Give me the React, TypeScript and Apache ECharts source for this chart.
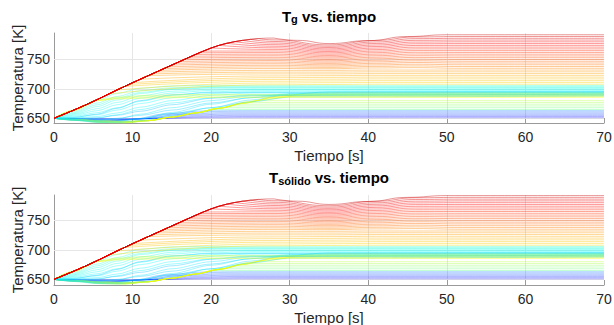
import React, { useEffect, useRef } from "react";
import * as echarts from "echarts";

// ---------- data ----------
const X_TICKS = [0, 10, 20, 30, 40, 50, 60, 70];
const Y_TICKS = [650, 700, 750];

// upper (red) envelope shared by the hot lines until they leave it
const TOP_ENVELOPE: number[][] = [
  [0, 650], [1, 655.5], [2, 661], [3, 666.7], [4, 672.5], [5, 678.7], [6, 685], [7, 691.5], [8, 698],
  [9, 704.2], [10, 710.5], [11, 716.5], [12, 722.5], [13, 728.5], [14, 734.5], [15, 740.5], [16, 746.5],
  [17, 752.5], [18, 758.5], [19, 764.2], [20, 769.5], [21, 774], [22, 777.5], [23, 780.3], [24, 782.5],
  [25, 784.2], [26, 785.5], [27, 786.3], [28, 786.4],
];
const TOP_LINE_TAIL: number[][] = [[28, 786.4], [31, 782.5], [35, 777], [40, 782], [45, 789], [50, 792], [70, 792]];

// red / orange family: time and value where each line leaves the envelope, then its values at t=28, 35, 41, 46 and final
const RED_DEPART_T = [26, 25, 24, 23, 22, 21, 20, 19, 18.5, 18, 17.5, 17, 16.5, 16, 15.5, 15, 14.5, 14, 13.5, 13, 12.5, 12, 11, 10, 9.5, 9, 8, 7];
const RED_DEPART_V = [785.5, 784.2, 782.5, 780.3, 777.5, 774, 769.5, 764.2, 761.4, 758.5, 755.5, 752.5, 749.5, 746.5, 743.5, 740.5, 737.5, 734.5, 731.5, 728.5, 725.5, 722.5, 716.5, 710.5, 707.4, 704.2, 698, 691.5];
const RED_AT_28 = [783.3, 780.6, 777.9, 775.2, 772.5, 769.8, 767.1, 764.4, 761.7, 759, 756.3, 753.6, 750.9, 748.2, 745.5, 742.8, 740.1, 737.4, 734.7, 731.5, 728.5, 725.5, 722, 719, 716, 713, 710, 707];
const RED_AT_35 = [774.8, 772.5, 770.3, 768, 765.8, 763.5, 761.3, 759, 756.8, 754.5, 752.3, 750, 747.8, 745.5, 743.3, 741, 738.8, 736.5, 734.3, 731.5, 728.5, 725.5, 722.5, 719.5, 716.5, 713.5, 710.5, 707.5];
const RED_AT_41 = [782.4, 779.8, 777.2, 774.6, 772, 769.4, 766.8, 764.2, 761.6, 759, 756.4, 753.8, 751.2, 748.6, 746, 743.4, 740.8, 738.2, 735.6, 732, 729, 726, 723, 720, 717, 714, 711, 708];
const RED_AT_46 = [788.3, 785.4, 782.5, 779.6, 776.7, 773.8, 770.9, 768, 765.1, 762.2, 759.3, 756.4, 753.5, 750.6, 747.7, 744.8, 741.9, 739, 736.1, 732, 729, 726, 723, 720, 717, 714, 711, 708];
const RED_FINAL = [789, 786, 783, 780, 777, 774, 771, 768, 765, 762, 759, 756, 753, 750, 747, 744, 741, 738, 735, 732, 729, 726, 723, 720, 717, 714, 711, 708];

const CYAN_LINES: number[][][] = [
  [[0, 650], [2.5, 663], [5.5, 681], [8, 692], [11, 701], [15, 705], [20, 706], [70, 706]],
  [[0, 650], [2.5, 661], [5.5, 676], [8, 687], [11, 697], [15, 702], [20, 704], [70, 704.5]],
  [[0, 650], [2.5, 659.5], [5.5, 673], [8, 684], [11, 694], [15, 700], [20, 702.5], [70, 703]],
  [[0, 650], [2.5, 658], [5.5, 670], [8, 681], [11, 692], [15, 699], [20, 701.5], [70, 702]],
  [[0, 650], [2.5, 656.5], [5.5, 666.5], [8, 677], [11, 688], [15, 696], [20, 699.5], [70, 700.5]],
  [[0, 650], [2.5, 655], [5.5, 663], [8, 673], [11, 684], [15, 693], [20, 697.5], [25, 699], [70, 699]],
  [[0, 650], [2.5, 653.5], [5.5, 659.5], [8, 668], [11, 679], [15, 689], [20, 695], [25, 697], [70, 697.5]],
  [[0, 650], [2.5, 652], [5.5, 656], [8, 664], [11, 675], [15, 685], [20, 692], [25, 695], [70, 696]],
  [[0, 650], [2.5, 650.5], [5.5, 653], [8, 659], [11, 669], [15, 680], [20, 689], [25, 693], [70, 694]],
  [[0, 650], [2.5, 649], [5.5, 650], [8, 656], [11, 665], [15, 676], [20, 685], [25, 690], [70, 692]],
  [[0, 650], [2.5, 648], [5.5, 646], [8, 649], [11, 657], [15, 668], [20, 680], [25, 688], [30, 690], [70, 690]],
  [[0, 650], [2.5, 647], [5.5, 644], [8, 644], [11, 649], [15, 660], [20, 674], [25, 685], [30, 692], [70, 693]],
  [[0, 650], [2.5, 646.5], [5.5, 643], [8, 642.5], [11, 646], [15, 655], [20, 668], [25, 681], [30, 691], [35, 695], [70, 695]],
];

// light-blue lines that cross the lower mesh
const SKY_LINES: number[][][] = [
  [[0, 650], [2.5, 651.5], [5.5, 657], [8, 667], [11, 680], [15, 690], [20, 694], [70, 695]],
  [[0, 650], [2.5, 650], [5.5, 651], [8, 655], [11, 662], [15, 673], [20, 684], [25, 689], [70, 691]],
  [[0, 650], [2.5, 648.5], [5.5, 647.5], [8, 650], [11, 655], [15, 664], [20, 676], [25, 685], [30, 689], [70, 689]],
  [[0, 650], [2.5, 647.5], [5.5, 645], [8, 645.5], [11, 650], [15, 658], [20, 668], [25, 678], [30, 686], [70, 688]],
];

// yellow-green lines that leave the upper ray near t = 5.5
const YELLOW_UPPER: number[][][] = [
  [[0, 650], [2.5, 664], [5.5, 681], [8, 686], [12, 689], [18, 690.5], [70, 691]],
  [[0, 650], [2.5, 663.8], [5.5, 680.5], [8, 684.5], [12, 686.5], [18, 688], [70, 688.5]],
  [[0, 650], [2.5, 663.5], [5.5, 680], [8, 683], [12, 684.5], [18, 685.5], [70, 685.5]],
];

const YELLOW_LINES: number[][][] = [
  [[0, 650], [3, 647.3], [6, 644], [9, 643], [12, 646], [15, 652], [18, 659], [21, 667], [24, 675.5], [27, 682.5], [30, 687], [70, 687]],
  [[0, 650], [3, 647.6], [6, 644.6], [9, 643.5], [12, 646], [15, 652], [18, 659], [21, 667], [24, 675.5], [27, 682.5], [31, 688], [35, 690], [70, 690]],
  [[0, 650], [3, 647.9], [6, 645.2], [9, 644.2], [12, 646], [15, 652], [18, 659], [21, 667], [24, 675.5], [28, 686], [32, 691], [36, 692], [70, 692]],
  [[0, 650], [3, 648.2], [6, 645.8], [9, 645], [12, 646], [15, 652], [18, 659], [21, 667], [25, 679], [29, 688], [33, 693], [37, 694], [70, 694]],
];

const GREEN_LINES: number[][][] = [
  [[0, 650], [3, 648.2], [6, 645.5], [9, 644.5], [12, 646], [15, 652], [18, 659], [20.25, 665], [70, 665]],
  [[0, 650], [3, 647.8], [6, 644.8], [9, 643.8], [12, 646], [15, 652], [18, 659], [21.4, 668], [70, 668]],
  [[0, 650], [3, 647.4], [6, 644.2], [9, 643.2], [12, 646], [15, 652], [18, 659], [21, 667], [22.4, 671], [70, 671]],
  [[0, 650], [3, 647], [6, 643.6], [9, 642.6], [12, 646], [15, 652], [18, 659], [21, 667], [23.5, 674], [70, 674]],
  [[0, 650], [3, 646.6], [6, 643], [9, 642.2], [12, 646], [15, 652], [18, 659], [21, 667], [24.7, 677], [70, 677]],
  [[0, 650], [3, 646.2], [6, 642.6], [9, 642], [12, 646], [15, 652], [18, 659], [21, 667], [24, 675.5], [25.9, 680], [70, 680]],
];

const BLUE_LINES: number[][][] = [
  [[0, 650], [4, 649.5], [9, 649.3], [14, 649.8], [19, 650.8], [24, 651], [70, 651]],
  [[0, 650], [4, 649], [9, 648.5], [14, 650.2], [19, 652.5], [24, 653], [70, 653]],
  [[0, 650], [4, 648.5], [9, 647.8], [13, 650], [18, 654], [23, 655], [70, 655]],
  [[0, 650], [3.5, 648], [8, 647], [12, 649.5], [17, 655.5], [22, 657], [70, 657]],
  [[0, 650], [3.5, 647.5], [7.5, 646.3], [11, 649], [16, 656.5], [21, 659], [70, 659]],
  [[0, 650], [3, 647.2], [7, 645.5], [10.5, 648.5], [15, 657], [20, 661], [70, 661]],
  [[0, 650], [3, 646.8], [6.5, 645], [10, 648], [14, 657.5], [19, 662.5], [24, 663], [70, 663]],
];

// ---------- helpers ----------
const FONT = "Liberation Sans, Arial, Helvetica, sans-serif";
const LINE_OPACITY = 0.42;

function clamp(v: number) {
  return Math.max(0, Math.min(1, v));
}
function jet(x: number) {
  const r = clamp(1.5 - Math.abs(4 * x - 3));
  const g = clamp(1.5 - Math.abs(4 * x - 2));
  const b = clamp(1.5 - Math.abs(4 * x - 1));
  return `rgb(${Math.round(r * 255)},${Math.round(g * 255)},${Math.round(b * 255)})`;
}

function lineSeries(data: number[][], color: string, gi: number, smooth: number | boolean = 0.3, opacity = LINE_OPACITY) {
  return {
    type: "line",
    xAxisIndex: gi,
    yAxisIndex: gi,
    data,
    showSymbol: false,
    symbol: "none",
    smooth,
    smoothMonotone: "x",
    silent: true,
    animation: false,
    lineStyle: { width: 1, color, opacity },
  };
}

function spread(i: number, n: number) {
  return n > 1 ? i / (n - 1) : 0;
}

function seriesForGrid(gi: number) {
  const s: any[] = [];
  // horizontal grid lines through markLine on an empty helper series
  s.push({
    type: "line",
    xAxisIndex: gi,
    yAxisIndex: gi,
    data: [],
    silent: true,
    markLine: {
      silent: true,
      symbol: "none",
      z: 1,
      label: { show: false },
      lineStyle: { color: "#e6e6e6", type: "solid", width: 1 },
      data: Y_TICKS.map((v) => ({ yAxis: v })),
    },
  });
  BLUE_LINES.forEach((pts, i) => s.push(lineSeries(pts, jet(0.12 + spread(i, BLUE_LINES.length) * 0.12), gi, 0.3, 0.32)));
  GREEN_LINES.forEach((pts, i) => s.push(lineSeries(pts, jet(0.48 + spread(i, GREEN_LINES.length) * 0.08), gi)));
  YELLOW_LINES.forEach((pts, i) => s.push(lineSeries(pts, jet(0.6 + spread(i, YELLOW_LINES.length) * 0.04), gi)));
  SKY_LINES.forEach((pts, i) => s.push(lineSeries(pts, jet(0.3 + spread(i, SKY_LINES.length) * 0.04), gi, 0.3, 0.36)));
  CYAN_LINES.forEach((pts, i) => s.push(lineSeries(pts, jet(0.42 - spread(i, CYAN_LINES.length) * 0.08), gi, 0.3, 0.36)));
  YELLOW_UPPER.forEach((pts, i) => s.push(lineSeries(pts, jet(0.57 + spread(i, YELLOW_UPPER.length) * 0.05), gi)));
  const n = RED_FINAL.length;
  for (let k = n - 1; k >= 0; k--) {
    const color = jet(0.66 + ((n - 1 - k) / n) * 0.26);
    const d = RED_DEPART_T[k];
    const head = TOP_ENVELOPE.filter((p) => p[0] < d).map((p) => [p[0], p[1]]);
    head.push([d, RED_DEPART_V[k]]);
    const tail = [
      [d, RED_DEPART_V[k]],
      [28, RED_AT_28[k]],
      [35, RED_AT_35[k]],
      [41, RED_AT_41[k]],
      [46, RED_AT_46[k]],
      [52, RED_FINAL[k]],
      [70, RED_FINAL[k]],
    ];
    s.push(lineSeries(head, color, gi, false));
    s.push(lineSeries(tail, color, gi, 0.5));
  }
  const topColor = jet(0.93);
  s.push(lineSeries(TOP_ENVELOPE, topColor, gi, false));
  s.push(lineSeries(TOP_LINE_TAIL, topColor, gi, 0.5));
  return s;
}

function xAxisFor(gi: number) {
  return {
    type: "value",
    gridIndex: gi,
    min: X_TICKS[0],
    max: X_TICKS[X_TICKS.length - 1],
    interval: 10,
    name: "Tiempo [s]",
    nameLocation: "middle",
    nameGap: 25,
    nameMoveOverlap: false,
    nameTextStyle: { fontFamily: FONT, fontSize: 15, color: "#262626" },
    axisLine: { show: true, lineStyle: { color: "#9a9a9a", width: 1 } },
    axisTick: { show: true, inside: true, length: 5, lineStyle: { color: "#9a9a9a" } },
    axisLabel: { fontFamily: FONT, fontSize: 14, color: "#262626", margin: 7 },
    splitLine: { show: true, showMinLine: false, showMaxLine: false, lineStyle: { color: "#e6e6e6", width: 1 } },
  };
}

function yAxisFor(gi: number, min: number, max: number) {
  return {
    type: "value",
    gridIndex: gi,
    min,
    max,
    name: "Temperatura [K]",
    nameLocation: "middle",
    nameRotate: 90,
    nameGap: 29,
    nameMoveOverlap: false,
    nameTextStyle: { fontFamily: FONT, fontSize: 15, color: "#262626" },
    axisLine: { show: true, lineStyle: { color: "#9a9a9a", width: 1 } },
    axisTick: { show: true, inside: true, length: 5, customValues: Y_TICKS, lineStyle: { color: "#9a9a9a" } },
    axisLabel: { fontFamily: FONT, fontSize: 14, color: "#262626", margin: 4, customValues: Y_TICKS },
    splitLine: { show: false },
  };
}

function titleText(y: number, sub: string) {
  return {
    type: "text",
    x: 329,
    y,
    silent: true,
    style: {
      text: `{b|T}{s|${sub}}{b| vs. tiempo}`,
      align: "center",
      verticalAlign: "top",
      rich: {
        b: { fontFamily: FONT, fontSize: 15, fontWeight: "bold", fill: "#000", color: "#000", lineHeight: 16, verticalAlign: "top" },
        s: { fontFamily: FONT, fontSize: 11, fontWeight: "bold", fill: "#000", color: "#000", lineHeight: 12, padding: [10, 0, 0, 0], verticalAlign: "bottom" },
      },
    },
  };
}

export default function App() {
  const ref = useRef<HTMLDivElement>(null);
  useEffect(() => {
    if (!ref.current) return;
    const chart = echarts.init(ref.current, undefined, { renderer: "svg" });
    chart.setOption({
      animation: false,
      backgroundColor: "#ffffff",
      grid: [
        { left: 54, width: 550, top: 33, height: 90, containLabel: false, outerBoundsMode: "none" },
        { left: 54, width: 550, top: 195, height: 90, containLabel: false, outerBoundsMode: "none" },
      ],
      xAxis: [xAxisFor(0), xAxisFor(1)],
      yAxis: [yAxisFor(0, 642, 795), yAxisFor(1, 640.5, 793)],
      graphic: [titleText(8.7, "g"), titleText(170, "sólido")],
      series: [...seriesForGrid(0), ...seriesForGrid(1)],
    });
    return () => chart.dispose();
  }, []);
  return (
    <div
      ref={ref}
      style={{ position: "absolute", left: 0, top: 0, width: 614, height: 325, background: "#fff" }}
    />
  );
}
